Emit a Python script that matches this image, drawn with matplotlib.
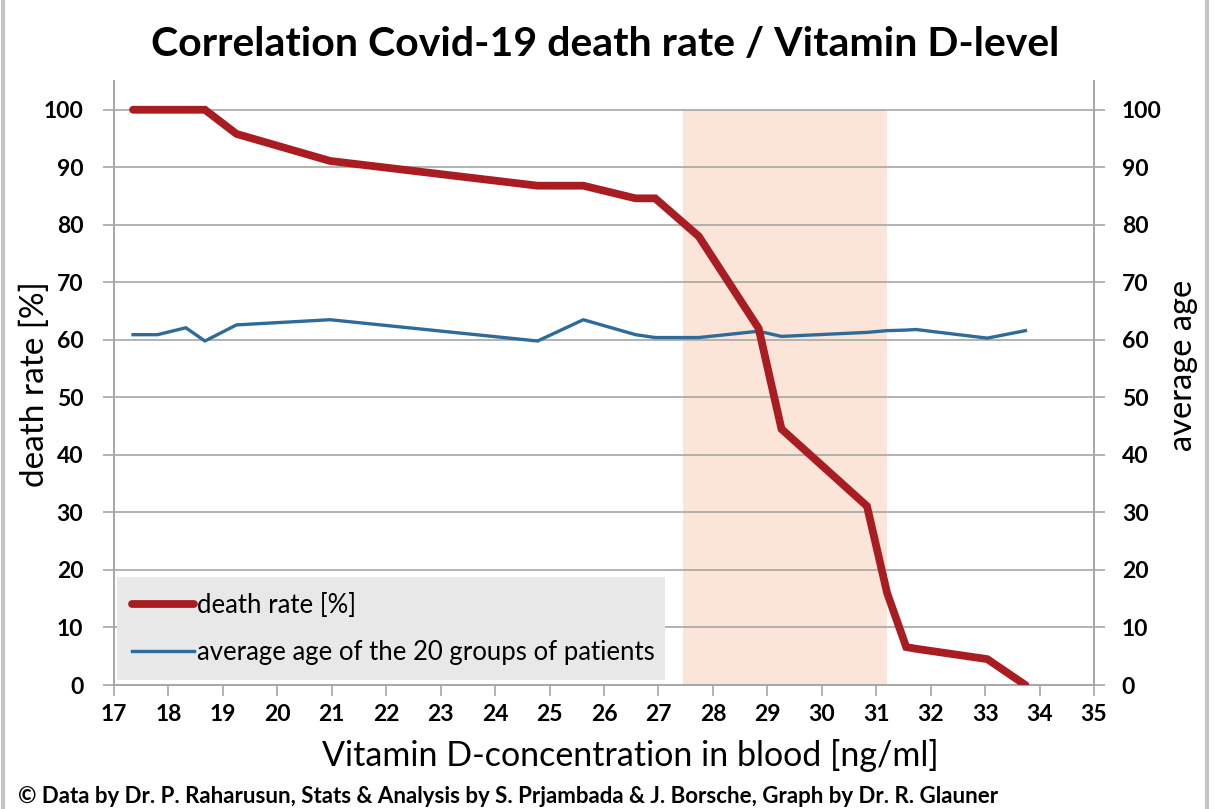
import matplotlib
matplotlib.use("Agg")
import matplotlib.pyplot as plt
from matplotlib.lines import Line2D

# ---- data ----
vitamin_d = [17.35, 17.8, 18.32, 18.67, 19.25, 20.97, 24.78, 25.62, 26.58, 26.94,
             27.74, 28.84, 29.26, 30.83, 31.2, 31.55, 31.73, 33.04, 33.74]
death_rate = [100, 100, 100, 100, 95.8, 91.1, 86.8, 86.8, 84.6, 84.6,
              78.0, 62.0, 44.5, 31.1, 16.0, 6.6, 6.3, 4.5, 0.0]
avg_age = [60.9, 60.9, 62.1, 59.8, 62.6, 63.5, 59.8, 63.5, 60.9, 60.4,
           60.4, 61.5, 60.6, 61.3, 61.6, 61.7, 61.8, 60.3, 61.6]
shade_range = [27.46, 31.19]
x_ticks = list(range(17, 36))
y_ticks = list(range(0, 101, 10))

title = "Correlation Covid-19 death rate / Vitamin D-level"
xlabel = "Vitamin D-concentration in blood [ng/ml]"
ylabel_left = "death rate [%]"
ylabel_right = "average age"
legend_labels = ["death rate [%]", "average age of the 20 groups of patients"]
footer = "\u00a9 Data by Dr. P. Raharusun, Stats & Analysis by S. Prjambada & J. Borsche, Graph by Dr. R. Glauner"

plt.rcParams['font.family'] = ['Lato', 'DejaVu Sans']

RED = "#a81c22"
BLUE = "#2f6b98"
GRID = "#a6a6a6"

fig = plt.figure(figsize=(12.3, 8.09), dpi=100)
ax = fig.add_axes([114/1230, 1-685/809, (1094-114)/1230, (685-81)/809])
ax2 = ax.twinx()
ax.set_zorder(ax2.get_zorder() + 1)
ax.patch.set_visible(False)

# background layer (ax2): shading, grid, blue line
ax2.axvspan(shade_range[0], shade_range[1], ymin=0, ymax=100/105, color="#fbe4d8",
            zorder=0, lw=0)
for y in y_ticks[1:]:
    ax2.axhline(y, color=GRID, lw=1.2, zorder=1)
ax2.plot(vitamin_d, avg_age, color=BLUE, lw=2.4, zorder=3)

# top layer (ax): red line + legend
ax.plot(vitamin_d, death_rate, color=RED, lw=5.6, solid_capstyle='round',
        solid_joinstyle='miter', zorder=4)

ax.set_xlim(17, 35)
ax.set_ylim(0, 105)
ax2.set_ylim(0, 105)
ax.set_xticks(x_ticks)
ax.set_yticks(y_ticks)
ax2.set_yticks(y_ticks)

for a in (ax, ax2):
    for s in a.spines.values():
        s.set_color(GRID)
        s.set_linewidth(1.2)
    a.spines['top'].set_visible(False)
ax.tick_params(axis='both', length=8, width=1.2, color=GRID, labelsize=16.5, pad=6)
ax.tick_params(axis='y', pad=14)
ax2.tick_params(axis='y', length=8, width=1.2, color=GRID, labelsize=16.5, pad=12)
for lab in ax.get_xticklabels() + ax.get_yticklabels() + ax2.get_yticklabels():
    lab.set_fontweight('bold')

handles = [Line2D([0], [0], color=RED, lw=5.6, solid_capstyle='round'),
           Line2D([0], [0], color=BLUE, lw=2.4)]
leg = ax.legend(handles, legend_labels, loc='lower left',
                bbox_to_anchor=(117/1230, 1-680/809, (665-117)/1230, (680-578)/809),
                bbox_transform=fig.transFigure, mode='expand',
                fontsize=18.5, frameon=True, fancybox=False, facecolor="#e8e8e8",
                edgecolor="none", framealpha=1, handlelength=2.4, handletextpad=0.1,
                borderpad=0.6, labelspacing=0.85, borderaxespad=0)
leg.set_zorder(2)

fig.text(605/1230, 1-45/809, title, ha='center', va='center', fontsize=29.5, fontweight='bold')
fig.text(630/1230, 1-755/809, xlabel, ha='center', va='center', fontsize=24.5)
fig.text(35/1230, 1-384/809, ylabel_left, ha='center', va='center', fontsize=24, rotation=90)
fig.text(1183/1230, 1-365/809, ylabel_right, ha='center', va='center', fontsize=23.5, rotation=90)
fig.text(18/1230, 1-803/809, footer, ha='left', va='baseline', fontsize=16, fontweight='bold')

# outer frame lines
fig.add_artist(Line2D([3/1230, 3/1230], [0, 1], transform=fig.transFigure, color="#c4c4c4", lw=3))
fig.add_artist(Line2D([1207/1230, 1207/1230], [0, 1], transform=fig.transFigure, color="#c4c4c4", lw=3))

fig.savefig("out.png", dpi=100)
